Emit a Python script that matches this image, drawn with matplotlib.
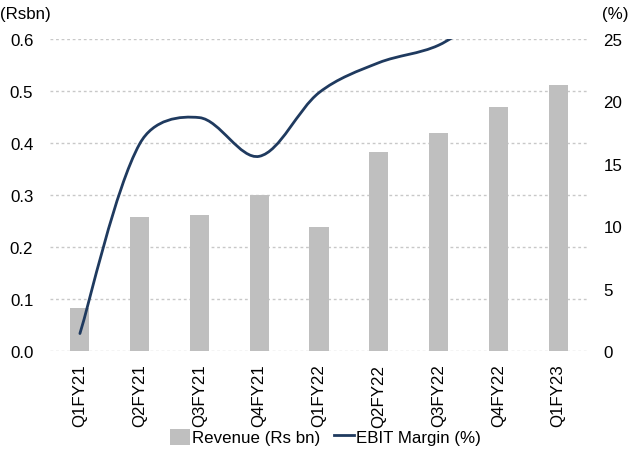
import numpy as np
import matplotlib
matplotlib.use("Agg")
import matplotlib.pyplot as plt
from matplotlib.path import Path
from matplotlib.patches import PathPatch, Patch
from matplotlib.lines import Line2D

plt.rcParams['font.family'] = ['Liberation Sans', 'DejaVu Sans']

quarters = ["Q1FY21", "Q2FY21", "Q3FY21", "Q4FY21", "Q1FY22",
            "Q2FY22", "Q3FY22", "Q4FY22", "Q1FY23"]
revenue = [0.083, 0.257, 0.262, 0.300, 0.238, 0.382, 0.419, 0.470, 0.511]
ebit_margin = [1.4, 16.6, 18.7, 15.6, 20.7, 23.1, 24.5, 27.5, 28.5]

BAR_COLOR = "#bfbfbf"
LINE_COLOR = "#1f3a5f"
GRID_COLOR = "#c8c8c8"
FS = 12.2


def smooth_path(ax, xs, ys, f=1.0 / 6.0, k=0.5):
    """Smoothed line through the points, built as cubic Bezier segments
    in display space (tangents softly scaled by neighbouring chords)."""
    tr = ax.transData
    pts = tr.transform(np.column_stack([xs, ys]).astype(float))
    n = len(pts)
    verts = [pts[0]]
    codes = [Path.MOVETO]
    for i in range(n - 1):
        p0 = pts[i - 1] if i > 0 else pts[i]
        p1 = pts[i]
        p2 = pts[i + 1]
        p3 = pts[i + 2] if i + 2 < n else pts[i + 1]
        d01 = np.linalg.norm(p1 - p0)
        d12 = np.linalg.norm(p2 - p1)
        d23 = np.linalg.norm(p3 - p2)
        s1 = (2 * d12 / (d01 + d12)) ** k if d01 > 0 else 1.0
        s2 = (2 * d12 / (d12 + d23)) ** k if d23 > 0 else 1.0
        c1 = p1 + (p2 - p0) * f * s1
        c2 = p2 - (p3 - p1) * f * s2
        verts += [c1, c2, p2]
        codes += [Path.CURVE4] * 3
    verts = tr.inverted().transform(np.array(verts))
    return Path(verts, codes)


fig = plt.figure(figsize=(6.38, 4.52), dpi=100)
ax = fig.add_axes([0.0784, 0.2212, 0.8432, 0.6903])
ax2 = ax.twinx()

x = np.arange(len(quarters))
ax.bar(x, revenue, width=0.32, color=BAR_COLOR, zorder=2)
ax.set_xlim(-0.5, len(quarters) - 0.5)
ax.set_ylim(0, 0.6)
ax.set_yticks(np.arange(0, 0.61, 0.1))
ax.set_yticklabels([f"{v:.1f}" for v in np.arange(0, 0.61, 0.1)])
ax.set_xticks(x)
ax.set_xticklabels(quarters, rotation=90)
ax.yaxis.grid(True, color=GRID_COLOR, linestyle=(0, (2, 2)), linewidth=1.0, zorder=0)
ax.set_axisbelow(True)

ax2.set_xlim(-0.5, len(quarters) - 0.5)
ax2.set_ylim(0, 25)
ax2.set_yticks(range(0, 26, 5))
fig.canvas.draw()
patch = PathPatch(smooth_path(ax2, x, ebit_margin), facecolor="none",
                  edgecolor=LINE_COLOR, linewidth=2.0, capstyle="round", zorder=3)
ax2.add_patch(patch)

for a in (ax, ax2):
    for s in a.spines.values():
        s.set_visible(False)
ax.tick_params(axis="y", length=0, pad=12, labelsize=FS, colors="#000000")
ax.tick_params(axis="x", length=0, pad=9, labelsize=FS)
ax2.tick_params(axis="y", length=0, pad=11, labelsize=FS)

fig.text(0.0, 0.968, "(Rsbn)", fontsize=FS, ha="left", va="center")
fig.text(0.943, 0.968, "(%)", fontsize=FS, ha="left", va="center")

handles = [Patch(facecolor=BAR_COLOR, edgecolor="none"),
           Line2D([0], [0], color=LINE_COLOR, linewidth=2.0)]
fig.legend(handles, ["Revenue (Rs bn)", "EBIT Margin (%)"], loc="center",
           bbox_to_anchor=(0.51, 0.031), ncol=2, frameon=False, fontsize=FS,
           handlelength=1.2, handleheight=1.1, handletextpad=0.1,
           columnspacing=0.8, borderaxespad=0)

fig.savefig("out.png", dpi=100)
